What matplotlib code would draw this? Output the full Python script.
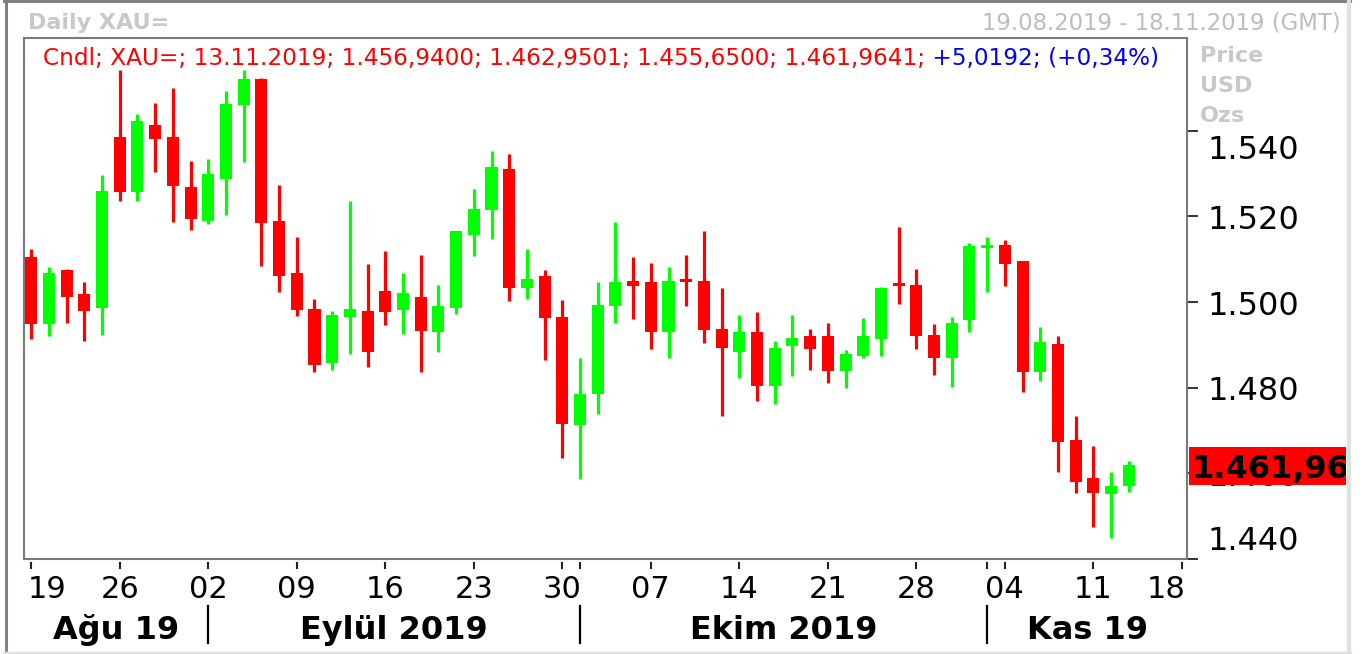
import matplotlib
matplotlib.use('Agg')
import matplotlib.pyplot as plt
import matplotlib.transforms as mtransforms
from matplotlib.patches import Rectangle
from matplotlib.lines import Line2D
import pandas as pd

# ---------------- data ----------------
dates = pd.bdate_range('2019-08-19', '2019-11-13')  # 63 trading days

opens = [1510.6, 1494.8, 1507.4, 1501.8, 1498.6,
         1538.6, 1525.6, 1541.4, 1538.6, 1526.9,
         1518.9, 1528.7, 1546.1, 1552.1, 1519.0,
         1506.9, 1498.5, 1485.8, 1496.6, 1498.0,
         1502.7, 1498.1, 1501.3, 1493.0, 1498.6,
         1515.6, 1521.4, 1531.1, 1503.2, 1506.0,
         1496.6, 1471.3, 1478.5, 1499.0, 1505.0,
         1504.6, 1493.0, 1505.5, 1505.0, 1493.8,
         1488.3, 1492.9, 1480.4, 1489.7, 1492.0,
         1492.0, 1483.9, 1487.4, 1491.4, 1504.1,
         1504.1, 1492.4, 1486.9, 1495.8, 1512.6,
         1513.4, 1509.7, 1483.7, 1490.1, 1467.7,
         1458.9, 1455.2, 1456.94]
highs = [1512.5, 1508.3, 1507.8, 1504.6, 1529.7,
         1554.2, 1544.0, 1546.4, 1550.1, 1533.0,
         1533.5, 1549.3, 1554.2, 1552.3, 1527.4,
         1515.3, 1500.8, 1498.0, 1523.7, 1508.8,
         1512.0, 1506.9, 1511.1, 1504.1, 1516.7,
         1526.5, 1535.3, 1534.6, 1512.5, 1507.4,
         1500.4, 1486.9, 1504.6, 1518.6, 1510.6,
         1509.2, 1508.3, 1511.1, 1516.7, 1503.2,
         1497.1, 1497.6, 1491.0, 1497.1, 1493.8,
         1495.2, 1488.7, 1496.2, 1503.6, 1517.6,
         1507.8, 1494.8, 1496.6, 1513.9, 1515.3,
         1514.4, 1509.7, 1494.3, 1492.0, 1473.3,
         1466.3, 1460.3, 1462.95]
lows = [1491.4, 1492.1, 1495.2, 1490.9, 1492.4,
        1523.5, 1523.5, 1530.5, 1518.6, 1516.8,
        1518.2, 1520.3, 1532.8, 1508.4, 1502.4,
        1496.7, 1483.7, 1484.1, 1487.9, 1484.8,
        1494.6, 1492.5, 1483.7, 1488.3, 1497.2,
        1510.7, 1514.7, 1500.2, 1500.7, 1486.5,
        1463.6, 1458.6, 1473.9, 1495.1, 1496.0,
        1489.0, 1486.9, 1499.0, 1490.4, 1473.4,
        1482.3, 1476.9, 1476.2, 1482.7, 1484.1,
        1481.1, 1479.9, 1486.9, 1487.4, 1499.5,
        1489.0, 1483.0, 1480.2, 1493.0, 1502.3,
        1503.7, 1479.0, 1481.6, 1460.3, 1455.5,
        1447.5, 1445.0, 1455.65]
closes = [1494.8, 1506.9, 1501.3, 1497.9, 1526.0,
          1525.6, 1542.3, 1538.0, 1527.0, 1519.3,
          1530.0, 1546.3, 1552.0, 1518.5, 1506.0,
          1498.1, 1485.2, 1497.1, 1498.5, 1488.3,
          1497.6, 1502.2, 1493.2, 1499.0, 1516.7,
          1521.8, 1531.6, 1503.2, 1505.5, 1496.2,
          1471.5, 1478.5, 1499.4, 1504.6, 1503.7,
          1493.0, 1505.0, 1504.7, 1493.5, 1489.3,
          1492.9, 1480.4, 1489.2, 1491.5, 1489.0,
          1483.9, 1487.8, 1492.0, 1503.2, 1503.7,
          1492.1, 1486.9, 1495.2, 1513.0, 1513.4,
          1508.8, 1483.7, 1490.6, 1467.3, 1458.0,
          1455.5, 1457.0, 1461.96]

y_ticks = [1440, 1460, 1480, 1500, 1520, 1540]
y_tick_labels = ['1.440', '1.460', '1.480', '1.500', '1.520', '1.540']
day_tick_labels = ['19', '26', '02', '09', '16', '23', '30', '07', '14', '21', '28', '04', '11', '18']
month_labels = ['Ağu 19', 'Eylül 2019', 'Ekim 2019', 'Kas 19']
title_left = 'Daily XAU='
title_right = '19.08.2019 - 18.11.2019 (GMT)'
unit_labels = ['Price', 'USD', 'Ozs']
info_red = 'Cndl; XAU=; 13.11.2019; 1.456,9400; 1.462,9501; 1.455,6500; 1.461,9641;'
info_blue = ' +5,0192; (+0,34%)'
last_price_label = '1.461,96'

# ---------------- figure ----------------
plt.rcParams['font.family'] = ['DejaVu Sans']
W, H = 1367, 654
fig = plt.figure(figsize=(W / 100, H / 100), dpi=100)
fig.patch.set_facecolor('white')

AX_L, AX_R, AX_T, AX_B = 24, 1187, 38, 559
ax = fig.add_axes([AX_L / W, 1 - AX_B / H, (AX_R - AX_L) / W, (AX_B - AX_T) / H])

RED = '#FF0000'
GREEN = '#00FF00'

n = len(dates)
xs = list(range(n))
colors = [GREEN if c >= o else RED for o, c in zip(opens, closes)]
bottoms = [min(o, c) for o, c in zip(opens, closes)]
heights = [max(abs(c - o), 0.7) for o, c in zip(opens, closes)]

ax.vlines(xs, lows, highs, colors=colors, linewidth=2.3, zorder=2)
ax.bar(xs, heights, bottom=bottoms, width=0.68, color=colors, linewidth=0, zorder=3)

ax.set_xlim(-0.41, 65.29)
ax.set_ylim(1440.23, 1561.68)
ax.set_xticks([])
for s in ax.spines.values():
    s.set_color('#7A7A7A')
    s.set_linewidth(1.5)

# y ticks on right
ax.yaxis.tick_right()
ax.set_yticks(y_ticks)
ax.tick_params(axis='y', direction='out', length=8, width=1.4, colors='#333333',
               labelright=False, labelleft=False)

# pixel transform (top-left origin)
tpix = mtransforms.Affine2D().scale(1, -1).translate(0, H)
xdata_ypix = mtransforms.blended_transform_factory(ax.transData, tpix)
xpix_ydata = mtransforms.blended_transform_factory(tpix, ax.transData)

# y tick labels (edge labels shifted inside)
y_offsets = {1440: 18, 1460: -4, 1480: -4, 1500: -4, 1520: -4, 1540: -20}
for v, lab in zip(y_ticks, y_tick_labels):
    tr = mtransforms.offset_copy(xpix_ydata, fig=fig, x=0, y=y_offsets[v], units='dots')
    fig.text(1207, v, lab, transform=tr, ha='left', va='center', fontsize=23,
             color='black', zorder=5)

# x ticks: Mondays + month starts + end
monday_idx = [i for i, d in enumerate(dates) if d.weekday() == 0] + [65]
month_start_idx = []
prev_m = dates[0].month
for i, d in enumerate(dates):
    if d.month != prev_m:
        month_start_idx.append(i)
        prev_m = d.month
tick_idx = sorted(set(monday_idx + month_start_idx))
for i in tick_idx:
    fig.add_artist(Line2D([i, i], [562.5, 567.5], transform=xdata_ypix,
                          color='#222222', linewidth=1.5))

for k, (i, lab) in enumerate(zip(monday_idx, day_tick_labels)):
    if k == 0:
        tr = mtransforms.offset_copy(xdata_ypix, fig=fig, x=-4, y=0, units='dots')
        fig.text(i, 598, lab, transform=tr, ha='left', va='baseline', fontsize=22)
    elif k == len(monday_idx) - 1:
        tr = mtransforms.offset_copy(xdata_ypix, fig=fig, x=4, y=0, units='dots')
        fig.text(i, 598, lab, transform=tr, ha='right', va='baseline', fontsize=22)
    else:
        fig.text(i, 598, lab, transform=xdata_ypix, ha='center', va='baseline', fontsize=22)

# month separators and labels
for i in month_start_idx:
    fig.add_artist(Line2D([i, i], [606, 643], transform=xdata_ypix,
                          color='black', linewidth=1.6))
xl0, xl1 = ax.get_xlim()
bounds = [xl0] + month_start_idx + [xl1]
for lab, a, b in zip(month_labels, bounds[:-1], bounds[1:]):
    fig.text((a + b) / 2, 639, lab, transform=xdata_ypix, ha='center', va='baseline',
             fontsize=23, fontweight='bold', color='black')

# header texts
fig.text(28, 29, title_left, transform=tpix, ha='left', va='baseline',
         fontsize=16, fontweight='bold', color='#C8C8C8')
fig.text(1341, 29, title_right, transform=tpix, ha='right', va='baseline',
         fontsize=16.4, color='#BDBDBD')
for k, lab in enumerate(unit_labels):
    fig.text(1200, 62 + 30 * k, lab, transform=tpix, ha='left', va='baseline',
             fontsize=16, fontweight='bold', color='#C8C8C8')

# info line
t1 = fig.text(43, 65, info_red, transform=tpix, ha='left', va='baseline',
              fontsize=16.7, color=RED, zorder=6)
fig.canvas.draw()
bb = t1.get_window_extent()
fig.text(bb.x1, H - 65, info_blue, transform=mtransforms.IdentityTransform(),
         ha='left', va='baseline', fontsize=16.7, color='#0000FF', zorder=6)

# last price tag
box = Rectangle((1189, 447), 157, 38, transform=tpix, facecolor=RED,
                edgecolor='none', zorder=10)
fig.add_artist(box)
tl = fig.text(1191, 466, last_price_label, transform=tpix, ha='left', va='center_baseline',
              fontsize=23, fontweight='bold', color='black', zorder=11)
tl.set_clip_path(box)

# outer frame
fig.add_artist(Line2D([5.5, 5.5], [0, 652], transform=tpix, color='#808080', linewidth=2.2))
fig.add_artist(Line2D([4, 1350], [1, 1], transform=tpix, color='#808080', linewidth=2.2))
fig.add_artist(Line2D([1348.5, 1348.5], [0, 654], transform=tpix, color='#E0E0E0', linewidth=3))
fig.add_artist(Line2D([4, 1350], [652.5, 652.5], transform=tpix, color='#E0E0E0', linewidth=2.5))

fig.savefig('out.png', dpi=100, facecolor='white')
